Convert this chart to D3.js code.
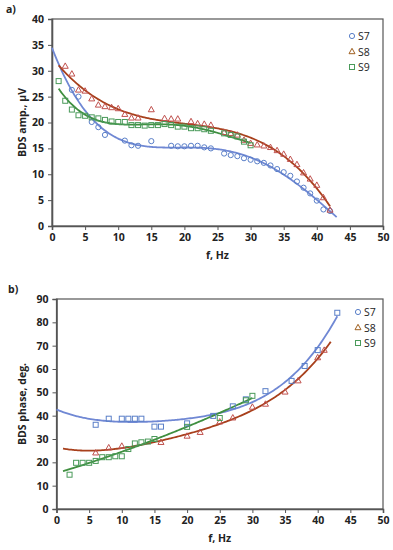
<!DOCTYPE html>
<html>
<head>
<meta charset="utf-8">
<script src="https://d3js.org/d3.v7.min.js"></script>
<style>
  body { margin: 0; background: #fff; }
  svg text { font-family: "Open Sans", "Liberation Sans", sans-serif; }
</style>
</head>
<body>
<script>
// ---- panel a) amplitude ----
const ampS7f = [3, 4, 6, 7, 8, 11, 12, 13, 15, 18, 19, 20, 21, 22, 23, 24, 26, 27, 28, 29, 30, 31, 32, 33, 34, 35, 36, 37, 38, 39, 40, 41, 42];
const ampS7v = [26.3, 25.0, 20.1, 19.1, 17.6, 16.5, 15.6, 15.5, 16.4, 15.5, 15.4, 15.4, 15.5, 15.5, 15.2, 15.0, 14.0, 13.7, 13.5, 13.1, 12.8, 12.5, 12.2, 11.7, 11.0, 10.4, 9.7, 8.6, 7.4, 6.3, 4.9, 3.2, 2.9];

const ampS8f = [2, 3, 4, 5, 6, 7, 8, 9, 10, 11, 12, 13, 15, 17, 18, 19, 21, 22, 23, 24, 26, 27, 28, 29, 30, 31, 32, 33, 34, 35, 36, 37, 38, 39, 40, 41, 42];
const ampS8v = [30.9, 29.4, 26.3, 26.1, 24.6, 23.4, 23.1, 22.9, 22.7, 21.6, 20.9, 20.9, 22.5, 20.8, 20.7, 20.7, 20.2, 19.8, 19.7, 19.5, 18.1, 17.9, 17.6, 16.6, 16.0, 15.7, 15.5, 15.2, 14.6, 13.9, 12.9, 11.9, 10.3, 9.1, 7.9, 5.5, 3.1];

const ampS9f = [1, 2, 3, 4, 5, 6, 7, 8, 9, 10, 11, 12, 13, 14, 15, 16, 17, 18, 19, 20, 21, 22, 23, 24, 26, 27, 28, 29, 30];
const ampS9v = [28.0, 24.2, 22.5, 21.4, 21.3, 21.0, 20.8, 20.5, 20.2, 20.1, 20.1, 19.5, 19.5, 19.4, 19.5, 19.5, 19.7, 19.5, 19.2, 19.2, 18.9, 18.9, 18.7, 18.4, 17.9, 17.6, 17.3, 16.3, 15.6];

// ---- panel b) phase ----
const phS7f = [6, 8, 10, 11, 12, 13, 15, 16, 20, 24, 27, 29, 32, 36, 38, 40, 43];
const phS7v = [36.1, 38.7, 38.7, 38.7, 38.7, 38.7, 35.3, 35.3, 36.7, 39.9, 44.0, 47.0, 50.5, 54.9, 61.3, 68.1, 84.1];

const phS8f = [6, 8, 10, 16, 20, 22, 25, 27, 30, 32, 35, 37, 40, 41];
const phS8v = [24.1, 26.3, 27.0, 28.6, 31.3, 32.9, 37.4, 39.1, 43.7, 45.0, 50.2, 55.0, 64.9, 68.1];

const phS9f = [2, 3, 4, 5, 6, 7, 8, 9, 10, 11, 12, 13, 14, 15, 20, 25, 29, 30];
const phS9v = [14.7, 19.8, 19.8, 19.8, 20.6, 22.2, 22.2, 22.6, 22.6, 25.7, 28.1, 28.6, 28.9, 30.0, 35.2, 39.0, 46.6, 48.5];

const seriesNames = ["S7", "S8", "S9"];
const xTicks = [0, 5, 10, 15, 20, 25, 30, 35, 40, 45, 50];
const ampTicks = [0, 5, 10, 15, 20, 25, 30, 35, 40];
const phTicks = [0, 10, 20, 30, 40, 50, 60, 70, 80, 90];

const markColor = ["#5a7fc8", "#c0504d", "#4a9a5a"];
const lineColor = ["#7088d4", "#a8401c", "#3f8f3f"];
const axisColor = "#555";

// least squares polynomial trend line
function polyfit(xs, ys, deg) {
  const n = deg + 1;
  const A = Array.from({length: n}, () => new Array(n + 1).fill(0));
  xs.forEach((x, k) => {
    for (let i = 0; i < n; i++) {
      for (let j = 0; j < n; j++) A[i][j] += Math.pow(x, i + j);
      A[i][n] += ys[k] * Math.pow(x, i);
    }
  });
  for (let c = 0; c < n; c++) {
    let p = c;
    for (let r = c + 1; r < n; r++) if (Math.abs(A[r][c]) > Math.abs(A[p][c])) p = r;
    [A[c], A[p]] = [A[p], A[c]];
    for (let r = 0; r < n; r++) {
      if (r === c) continue;
      const f = A[r][c] / A[c][c];
      for (let j = c; j <= n; j++) A[r][j] -= f * A[c][j];
    }
  }
  const coef = A.map((row, i) => row[n] / row[i]);
  return x => coef.reduce((s, c, i) => s + c * Math.pow(x, i), 0);
}

const svg = d3.select("body").append("svg").attr("width", 393).attr("height", 550);

function marker(g, shape, x, y, color) {
  if (shape === "circle") {
    g.append("circle").attr("cx", x).attr("cy", y).attr("r", 2.6)
      .attr("fill", "none").attr("stroke", color).attr("stroke-width", 1);
  } else if (shape === "square") {
    g.append("rect").attr("x", x - 2.5).attr("y", y - 2.5).attr("width", 5).attr("height", 5)
      .attr("fill", "none").attr("stroke", color).attr("stroke-width", 1);
  } else {
    g.append("path").attr("d", `M${x},${y - 3.2}L${x + 3},${y + 2.2}L${x - 3},${y + 2.2}Z`)
      .attr("fill", "none").attr("stroke", color).attr("stroke-width", 1);
  }
}

function panel(opt) {
  const x = d3.scaleLinear().domain([0, 50]).range([opt.left, 383]);
  const y = d3.scaleLinear().domain(opt.yDomain).range([opt.bottom, opt.top]);
  const g = svg.append("g");

  // plot frame
  g.append("rect").attr("x", opt.left).attr("y", opt.top)
    .attr("width", 383 - opt.left).attr("height", opt.bottom - opt.top)
    .attr("fill", "none").attr("stroke", axisColor).attr("stroke-width", 1.2);

  const xa = g.append("g").attr("transform", `translate(0,${opt.bottom})`)
    .call(d3.axisBottom(x).tickValues(xTicks).tickSize(4).tickPadding(4));
  const ya = g.append("g").attr("transform", `translate(${opt.left},0)`)
    .call(d3.axisLeft(y).tickValues(opt.yTicks).tickSize(4).tickPadding(4));
  [xa, ya].forEach(a => {
    a.select(".domain").attr("stroke", axisColor).attr("stroke-width", 1.6);
    a.selectAll(".tick line").attr("stroke", axisColor);
    a.selectAll("text").attr("font-size", 10.5).attr("font-weight", "bold").attr("fill", "#222");
  });

  // trend lines
  opt.series.forEach((s, i) => {
    const fit = polyfit(s.f, s.v, s.deg);
    const pts = d3.range(s.from, s.to + 0.001, 0.25).map(t => [t, fit(t)]);
    g.append("path").datum(pts)
      .attr("d", d3.line().x(d => x(d[0])).y(d => y(d[1])).curve(d3.curveBasis))
      .attr("fill", "none").attr("stroke", lineColor[i]).attr("stroke-width", 1.8);
  });

  // data markers
  opt.series.forEach((s, i) => {
    s.f.forEach((f, k) => marker(g, s.shape, x(f), y(s.v[k]), markColor[i]));
  });

  // legend
  seriesNames.forEach((name, i) => {
    const ly = opt.legendY + i * 15.5;
    marker(g, opt.legendShapes[i], opt.legendX, ly, i === 1 ? "#a06020" : markColor[i]);
    g.append("text").attr("x", opt.legendX + 6).attr("y", ly + 4)
      .attr("font-size", 10.5).attr("fill", "#222").text(name);
  });

  g.append("text").attr("x", (opt.left + 383) / 2).attr("y", opt.bottom + 33)
    .attr("text-anchor", "middle").attr("font-size", 10.5).attr("font-weight", "bold")
    .attr("fill", "#222").text("f, Hz");
  g.append("text")
    .attr("transform", `translate(26,${(opt.top + opt.bottom) / 2}) rotate(-90)`)
    .attr("text-anchor", "middle").attr("font-size", 10.5).attr("font-weight", "bold")
    .attr("fill", "#222").text(opt.yTitle);
  g.append("text").attr("x", opt.tagX).attr("y", opt.top - 6)
    .attr("font-size", 10.5).attr("font-weight", "bold").attr("fill", "#222").text(opt.tag);
}

panel({
  tag: "a)", tagX: 6, left: 52, top: 19, bottom: 226,
  yDomain: [0, 40], yTicks: ampTicks, yTitle: "BDS amp., µV",
  legendX: 352, legendY: 36, legendShapes: ["circle", "triangle", "square"],
  series: [
    {f: ampS7f, v: ampS7v, shape: "circle", deg: 4, from: 0, to: 43},
    {f: ampS8f, v: ampS8v, shape: "triangle", deg: 3, from: 1, to: 42},
    {f: ampS9f, v: ampS9v, shape: "square", deg: 4, from: 1, to: 30}
  ]
});

panel({
  tag: "b)", tagX: 8, left: 56.5, top: 299, bottom: 509,
  yDomain: [0, 90], yTicks: phTicks, yTitle: "BDS phase, deg.",
  legendX: 358, legendY: 312, legendShapes: ["circle", "triangle", "square"],
  series: [
    {f: phS7f, v: phS7v, shape: "square", deg: 4, from: 0, to: 43},
    {f: phS8f, v: phS8v, shape: "triangle", deg: 4, from: 1, to: 42},
    {f: phS9f, v: phS9v, shape: "square", deg: 2, from: 1, to: 30}
  ]
});
</script>
</body>
</html>
